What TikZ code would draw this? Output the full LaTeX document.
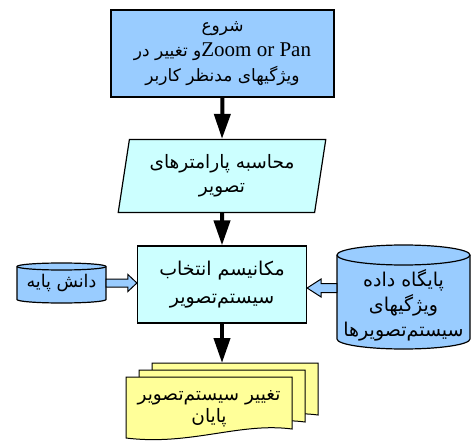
\documentclass[tikz,border=0pt]{standalone}
\usepackage{fontspec}
\setmainfont{Liberation Serif}
\newfontfamily\farsi[Script=Arabic]{DejaVu Sans}
\TeXXeTstate=1
\usetikzlibrary{arrows.meta,shapes.geometric,calc}

\definecolor{boxblue}{RGB}{153,204,255}
\definecolor{boxcyan}{RGB}{204,255,255}
\definecolor{docyellow}{RGB}{255,255,153}

\tikzset{
  flow/.style={draw=black, line width=1.2pt, align=center, inner sep=0pt,
    font=\farsi\fontsize{19}{28}\selectfont},
  label/.style={align=center, inner sep=0pt, font=\farsi\fontsize{19}{25}\selectfont},
  bigarrow/.style={line width=4pt, -{Triangle[width=16pt,length=25pt]}},
  blockarrow/.style={draw=black, line width=1pt, fill=boxblue},
  cyl/.style={draw=black, line width=1.2pt, fill=boxblue},
  sheet/.style={draw=black, line width=1pt, fill=docyellow},
}

\begin{document}
\begin{tikzpicture}[x=1pt,y=-1pt]
    \useasboundingbox (0,0) rectangle (471,441);
    % start box
    \node[flow, fill=boxblue, minimum width=223pt, minimum height=87pt,
      font=\farsi\fontsize{17}{25}\selectfont] (shoru) at (222.5,53.5)
      {\beginR شروع\endR\\
       \beginR\beginL{\rmfamily\fontsize{21}{25}\selectfont Zoom or Pan}\endL و تغییر در\endR\\
       \beginR ویژگیهای مدنظر کاربر\endR};
    % parameters
    \node[flow, trapezium, trapezium left angle=78.4, trapezium right angle=101.6,
      trapezium stretches=true, minimum width=208pt, minimum height=73pt, fill=boxcyan,
      font=\farsi\fontsize{18.5}{24}\selectfont]
      (mohasebe) at (222,176)
      {\beginR محاسبه پارامترهای\endR\\ \beginR تصویر\endR};
    % selection mechanism
    \node[flow, fill=boxcyan, minimum width=169pt, minimum height=77pt] (mekanism) at (222,284.5)
      {\beginR مکانیسم انتخاب\endR\\ \beginR سیستم‌تصویر\endR};
    % knowledge base
    \filldraw[cyl] (17,266.5) -- (17,299.5) arc[start angle=180,end angle=0,x radius=44.5,y radius=3.5]
      -- (106,266.5) arc[start angle=0,end angle=-180,x radius=44.5,y radius=3.5] -- cycle;
    \draw[line width=1.2pt] (17,266.5) arc[start angle=180,end angle=0,x radius=44.5,y radius=3.5];
    \node[label, minimum width=89pt, font=\farsi\fontsize{17.5}{24}\selectfont] (danesh) at (61.5,283)
      {\beginR دانش پایه\endR};
    % database
    \filldraw[cyl] (337,255) -- (337,339) arc[start angle=180,end angle=0,x radius=66.5,y radius=10]
      -- (470,255) arc[start angle=0,end angle=-180,x radius=66.5,y radius=10] -- cycle;
    \draw[line width=1.2pt] (337,255) arc[start angle=180,end angle=0,x radius=66.5,y radius=10];
    \node[label, minimum width=133pt] (paygah) at (403.5,305)
      {\beginR پایگاه داده\endR\\ \beginR ویژگیهای\endR\\ \beginR سیستم‌تصویرها\endR};
    % documents
    \filldraw[sheet] (152,363) -- (318,363) -- (318,415) .. controls (266,408) and (216,432) .. (152,424) -- cycle;
    \filldraw[sheet] (139,370) -- (305,370) -- (305,422) .. controls (253,415) and (203,439) .. (139,431) -- cycle;
    \filldraw[sheet] (126,377) -- (292,377) -- (292,429) .. controls (240,422) and (190,446) .. (126,438) -- cycle;
    \coordinate (docTop) at (222,363);
    \node[label, minimum width=166pt, font=\farsi\fontsize{18.5}{22}\selectfont] (payan) at (209,409)
      {\beginR تغییر سیستم‌تصویر\endR\\ \beginR پایان\endR};
    % flow arrows
    \draw[bigarrow] (shoru.south) -- (mohasebe.north);
    \draw[bigarrow] (mohasebe.south) -- (mekanism.north);
    \draw[bigarrow] (mekanism.south) -- (docTop);
    % block arrows
    \filldraw[blockarrow] ($(danesh.east)+(0,-4)$) -| ($(mekanism.west |- danesh.east)+(-9,-8.5)$)
      -- (mekanism.west |- danesh.east) -- ++(-9,8.5) |- ($(danesh.east)+(0,4)$) -- cycle;
    \coordinate (rtip) at ($(mekanism.east)+(0,3.5)$);
    \filldraw[blockarrow] ($(paygah.west |- rtip)+(0,-4.5)$) -| ($(rtip)+(14,-9)$)
      -- (rtip) -- ++(14,9) |- ($(paygah.west |- rtip)+(0,4.5)$) -- cycle;
\end{tikzpicture}
\end{document}
